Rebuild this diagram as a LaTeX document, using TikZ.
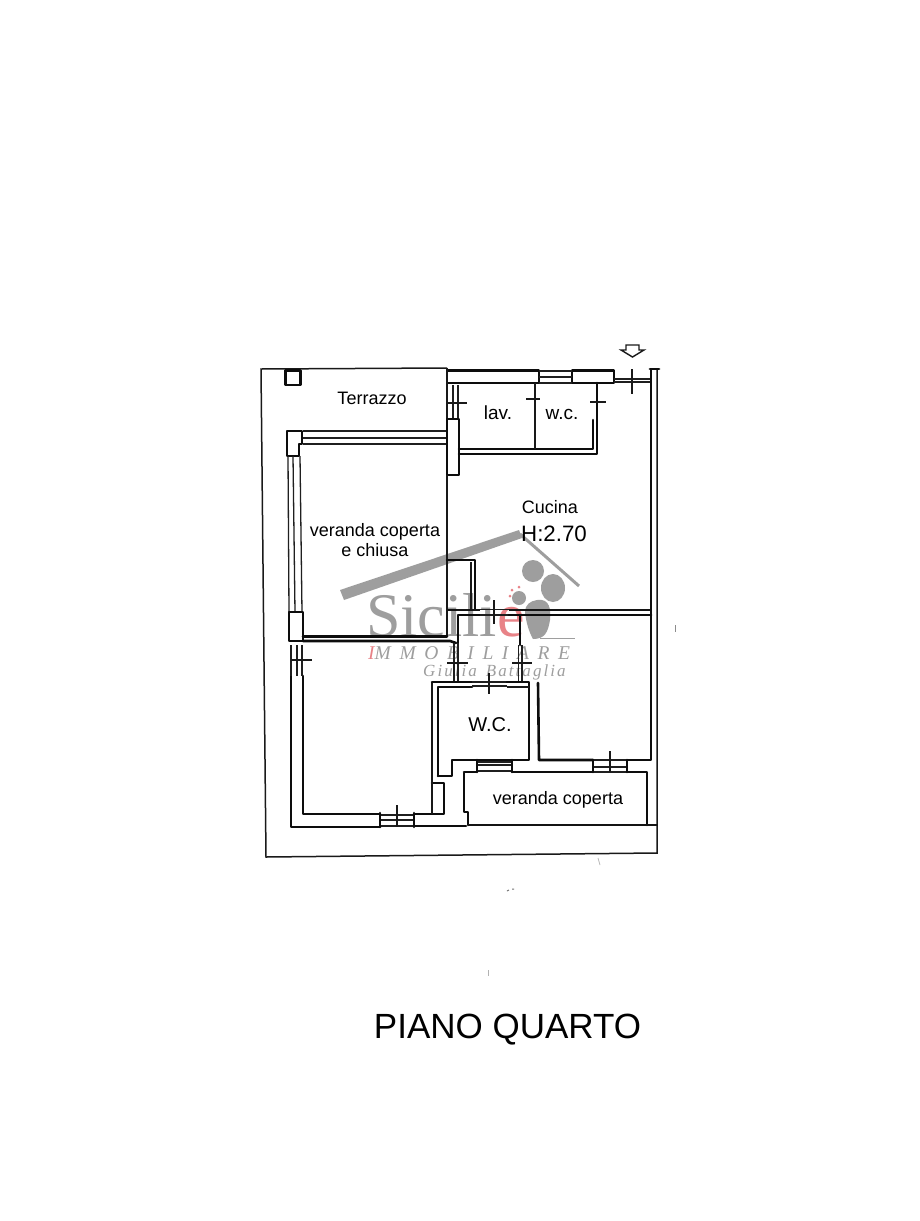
\documentclass[tikz,border=0pt]{standalone}
\usepackage{fontspec}
\setmainfont{Liberation Sans}
\newfontfamily\wmserif{Liberation Serif}
\definecolor{wm}{gray}{0.62}
\definecolor{wmred}{RGB}{232,130,135}
\tikzset{
  thin wall/.style={line width=1.3pt,black!90},
  mid wall/.style={line width=2pt,black!92},
  wall/.style={line width=2.9pt,black!95,line cap=round,line join=round},
  win/.style={line width=1.2pt,black!88},
  label/.style={inner sep=0pt,anchor=base,text=black,font=\fontsize{18}{20}\selectfont},
  wmmark/.style={fill=wm,draw=none},
}
\begin{document}
\begin{tikzpicture}[x=1pt,y=-1pt]
\useasboundingbox (0,0) rectangle (920,1221);
\fill[white] (0,0) rectangle (920,1221);

% watermark
\fill[wmmark] (340,590) -- (519,530) -- (522,538) -- (344,600) -- cycle;
\draw[wm,line width=3pt] (520,534) -- (579,586);
\fill[wmmark] (533,571) ellipse (11 and 11);
\fill[wmmark] (553,588) ellipse (12 and 14);
\fill[wmmark] (519,598) ellipse (7 and 7);
\fill[wmmark] (537,600) .. controls (550,598) and (551,610) .. (550,620) .. controls (548,632) and (545,639) .. (533,639) .. controls (529,632) and (526,622) .. (525,612) .. controls (525,605) and (530,601) .. (537,600) -- cycle;
\fill[wmred] (512,590) circle (1.5) (519,587) circle (1.5) (510,596) circle (1.5);
\draw[wm,line width=.8pt] (540,638) -- (575,638);
\node[anchor=base west,inner sep=0pt,text=wm] (wmtext) at (366,636) {\wmserif\fontsize{62}{62}\selectfont Sicili\textcolor{wmred}{e}};
\node[anchor=base west,inner sep=0pt,text=wm] (wmimm) at (368,659) {\wmserif\itshape\addfontfeatures{LetterSpace=44}\fontsize{19.5}{20}\selectfont\textcolor{wmred}{I}MMOBILIARE};
\node[anchor=base west,inner sep=0pt,text=wm] (wmsign) at (423,676) {\wmserif\itshape\addfontfeatures{LetterSpace=12}\fontsize{17}{17}\selectfont Giulia \,Battaglia};

% terrace outline and outer boundary
\draw[thin wall,line width=1.5pt] (447,368) -- (261,369) -- (266,857) -- (657,853) -- (657,369);
\draw[wall] (650,369) -- (659,369);
\draw[wall,line width=2.6pt] (285.5,370.5) rectangle (300.5,385);

% top block with windows
\draw[wall] (539,383) -- (447,383) -- (447,370.5) -- (539,370.5) -- cycle;
\draw[wall] (572,370.5) rectangle (614,383);
\draw[win] (539,371) -- (572,371) (539,377) -- (572,377) (539,383) -- (572,383);
\draw[win] (614,379) -- (651,379) (614,382) -- (651,382);
\draw[thin wall] (632,369) -- (632,394);
\draw[thin wall] (447,368) -- (447,431);

% lav / w.c.
\draw[wall,line width=2.6pt] (597,383) -- (597,454) -- (459,454);
\draw[wall,line width=2.6pt] (593,420) -- (593,449) -- (459,449);
\draw[thin wall,line width=1.6pt] (535,383) -- (535,449);
\draw[thin wall] (526,399) -- (540,399) (590,402) -- (606,402);
\draw[win] (453,385) -- (453,419) (458,385) -- (458,419);
\draw[thin wall] (447,403) -- (467,403);
\draw[wall,line width=2.6pt] (447,419) -- (459,419) -- (459,475) -- (447,475) -- cycle;

% veranda chiusa
\draw[win,line width=1.4pt] (303,431) -- (446,431) (303,438) -- (446,438) (303,444) -- (446,444);
\draw[wall,line width=2.6pt] (287,431) -- (302,431) -- (302,444) -- (299,444) -- (299,456) -- (287,456) -- cycle;
\draw[win,line width=1.3pt] (288,456) -- (289,612) (293,456) -- (295,612) (300,456) -- (302,612);
\draw[thin wall] (447,475) -- (447,636);
\draw[wall,line width=2.6pt] (289,612) -- (303,612) -- (303,641) -- (289,641) -- cycle;
\draw[wall,line width=2.6pt] (303,636.5) -- (447,636.5);
\draw[wall,line width=2.6pt] (303,641) -- (450,641) -- (456,643);

% closet and kitchen partition
\draw[wall,line width=2.6pt] (447,560) -- (475,560) -- (475,609);
\draw[thin wall] (471,562) -- (471,609);
\draw[mid wall] (447,609.5) -- (480,609.5);
\draw[wall,line width=2.6pt] (458,643) -- (458,615) -- (480,615);
\draw[win] (480,609.5) -- (509,609.5) (480,615) -- (509,615);
\draw[thin wall] (494,600) -- (494,624);
\draw[mid wall] (509,609.5) -- (651,609.5);
\draw[wall,line width=2.8pt] (509,615) -- (651,615);
\draw[wall] (520,615) -- (520,645);
\draw[win] (454,643) -- (454,682) (458,643) -- (458,682);
\draw[thin wall] (447,663) -- (468,663);
\draw[win] (518.5,645) -- (518.5,682) (522,645) -- (522,682);
\draw[thin wall] (512,663) -- (532,663);

% right walls
\draw[wall] (651,370) -- (651,760) -- (627,760);

% lower left room
\draw[wall,line width=2.6pt] (303,676) -- (303,814) -- (380,814);
\draw[wall,line width=2.8pt] (291,676) -- (291,827) -- (380,827);
\draw[win] (291,645) -- (291,676) (297,645) -- (297,676) (302,645) -- (302,676);
\draw[thin wall] (291,660) -- (312,660);
\draw[win] (380,815) -- (414,815) (380,820) -- (414,820) (380,826) -- (414,826);
\draw[thin wall] (397,805) -- (397,827);
\draw[wall,line width=2.6pt] (380,813) -- (380,827) (414,813) -- (414,827);
\draw[wall,line width=2.6pt] (414,814) -- (444,814) -- (444,783) -- (432,783);
\draw[wall,line width=2.6pt] (414,826) -- (466,826);
\draw[thin wall,line width=1.8pt] (432,814) -- (432,682);

% W.C.
\draw[wall,line width=2.6pt] (432,682) -- (472,682);
\draw[wall,line width=2.6pt] (438,776) -- (438,687) -- (472,687);
\draw[win] (472,682) -- (507,682) (472,686) -- (507,686);
\draw[thin wall] (489,673) -- (489,694);
\draw[wall,line width=2.6pt] (507,682) -- (529,682) -- (529,760) -- (452,760) -- (452,776) -- (438,776);
\draw[thin wall] (507,687) -- (529,687);

% right room and veranda coperta
\draw[wall,line width=2.6pt] (538,683) -- (539,760) -- (593,760);
\draw[wall,line width=2.6pt] (464,773) -- (464,812) -- (468,812) -- (468,825);
\draw[wall,line width=2.6pt] (464,772) -- (477,772);
\draw[win,line width=1.8pt] (477,762) -- (512,762) (477,765) -- (512,765) (477,771) -- (512,771);
\draw[wall,line width=2.6pt] (477,760) -- (477,772) (512,760) -- (512,772);
\draw[wall,line width=2.6pt] (512,772) -- (593,772);
\draw[win] (593,760) -- (627,760) (593,767) -- (627,767) (593,772) -- (627,772);
\draw[thin wall] (610,751) -- (610,772);
\draw[wall,line width=2.6pt] (593,760) -- (593,772) (627,760) -- (627,772);
\draw[wall,line width=2.6pt] (627,772) -- (647,772) -- (647,825);
\draw[mid wall] (468,825) -- (658,825);

% entrance arrow
\draw[line width=1.4pt,black!90,line join=miter] (626,345) -- (639,345) -- (639,350) -- (644,350) -- (632.5,357) -- (621,350) -- (626,350) -- cycle;

% specks
\draw[black!45,line width=.8pt] (675,625) -- (675,632);
\draw[black!55,line width=1pt] (507,891) -- (509,890) (512,889) -- (514,889);
\draw[black!30,line width=.7pt] (488,970) -- (488,976);
\draw[black!30,line width=.7pt] (598,858) -- (600,865);

% labels
\node[label] (terrazzo) at (372,404) {Terrazzo};
\node[label,font=\fontsize{19}{21}\selectfont] (lav) at (498,419) {lav.};
\node[label,font=\fontsize{19}{21}\selectfont] (wc1) at (562,419) {w.c.};
\node[label] (cucina) at (550,513) {Cucina};
\node[label,font=\fontsize{22.3}{24}\selectfont] (h) at (554,541) {H:2.70};
\node[label] (ver1) at (375,536) {veranda coperta};
\node[label] (ver2) at (375,556) {e chiusa};
\node[label,font=\fontsize{20}{22}\selectfont] (wc2) at (490,731) {W.C.};
\node[label] (ver3) at (558,804) {veranda coperta};
\node[label,font=\fontsize{35}{37}\selectfont] (title) at (507.5,1038) {PIANO QUARTO};
\end{tikzpicture}
\end{document}
